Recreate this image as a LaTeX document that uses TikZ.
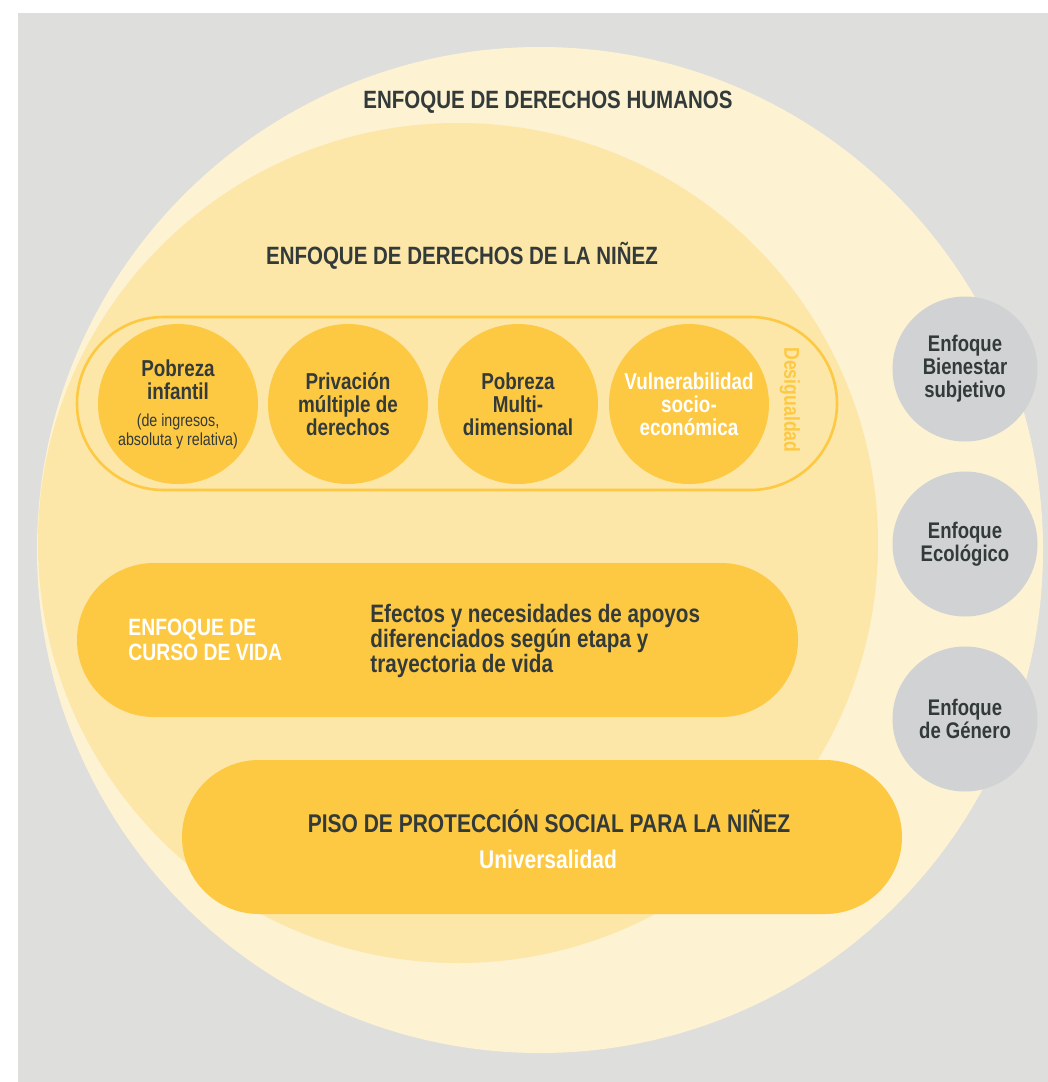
\documentclass[tikz,border=0pt]{standalone}
\usepackage{fontspec}
\setmainfont{Liberation Sans}[FakeStretch=0.82]
\definecolor{bggray}{RGB}{222,222,220}
\definecolor{cream}{RGB}{253,242,210}
\definecolor{sand}{RGB}{252,230,168}
\definecolor{sun}{RGB}{253,201,66}
\definecolor{stone}{RGB}{209,210,212}
\definecolor{ink}{RGB}{51,58,58}
\newcommand{\smalltxt}[1]{{\mdseries\fontsize{8.7}{9.5}\selectfont #1}}
\tikzset{
  every node/.style={font=\bfseries, text=ink, align=center, inner sep=0pt},
  ball/.style={circle, fill=sun, minimum size=80pt, font=\bfseries\fontsize{11.5}{11.5}\selectfont},
  side/.style={circle, fill=stone, minimum size=72.5pt, font=\bfseries\fontsize{11.3}{11.5}\selectfont},
  pill/.style={rectangle, fill=sun, minimum height=77pt, rounded corners=38.5pt},
  heading/.style={font=\bfseries\fontsize{12.5}{14}\selectfont}
}
\begin{document}
\begin{tikzpicture}[x=0.5pt,y=-0.5pt]
\fill[white] (0,0) rectangle (1048,1082);
\fill[bggray] (18,13) rectangle (1048,1082);
\useasboundingbox (0,0) rectangle (1048,1082);
\node[circle, fill=cream, minimum size=503pt] (humanos) at (540,550) {};
\node[circle, fill=sand, minimum size=420pt] (ninez) at (458,543) {};
\node[heading] (tHumanos) at (548,102) {ENFOQUE DE DERECHOS HUMANOS};
\node[heading] (tNinez) at (462,256) {ENFOQUE DE DERECHOS DE LA NIÑEZ};
\node[rectangle, draw=sun, line width=1.3pt, minimum width=380pt, minimum height=86.5pt, rounded corners=43.25pt] (desig) at (457,403.5) {};
\node[ball] (infantil) at (178,404) {Pobreza\\infantil\\[2pt]\smalltxt{(de ingresos,}\\[-2pt]\smalltxt{absoluta y relativa)}};
\node[ball] (privacion) at (348,404) {Privación\\múltiple de\\derechos};
\node[ball] (multi) at (518,404) {Pobreza\\Multi-\\dimensional};
\node[ball, text=white] (vulne) at (689,404) {Vulnerabilidad\\socio-\\económica};
\node[rotate=-90, text=sun, font=\bfseries\fontsize{10.8}{11}\selectfont] (tDesig) at (790,400) {Desigualdad};
\node[pill, minimum width=360.5pt] (curso) at (437.5,640) {};
\node[anchor=west, align=left, text=white, font=\bfseries\fontsize{11.8}{12.5}\selectfont] (tCurso) at (128,640) {ENFOQUE DE\\CURSO DE VIDA};
\node[anchor=west, align=left, font=\bfseries\fontsize{12.6}{12.5}\selectfont] (tEfectos) at (370,641) {Efectos y necesidades de apoyos\\diferenciados según etapa y\\trayectoria de vida};
\node[pill, minimum width=360pt] (piso) at (542,837) {};
\node[heading, font=\bfseries\fontsize{12.8}{14}\selectfont] (tPiso) at (549,821) {PISO DE PROTECCIÓN SOCIAL PARA LA NIÑEZ};
\node[text=white, font=\bfseries\fontsize{12.8}{13}\selectfont] (tUniv) at (548,859) {Universalidad};
\node[side] (bienestar) at (965,369) {Enfoque\\Bienestar\\subjetivo};
\node[side] (ecologico) at (965,544) {Enfoque\\Ecológico};
\node[side] (genero) at (965,719) {Enfoque\\de Género};
\end{tikzpicture}
\end{document}
